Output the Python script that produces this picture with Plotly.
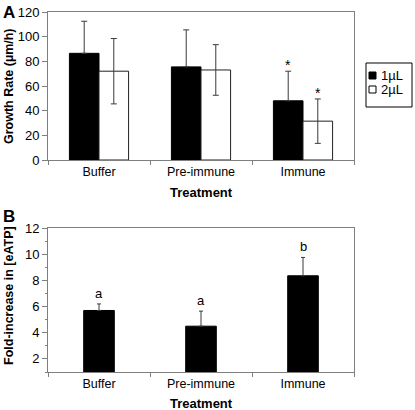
import plotly.graph_objects as go

# ---------------- data ----------------
categories = ["Buffer", "Pre-immune", "Immune"]
series_names = ["1µL", "2µL"]

growth_1ul = [86.5, 75.5, 48.0]
growth_1ul_err = [26.0, 30.0, 24.0]
growth_2ul = [72.0, 73.0, 31.5]
growth_2ul_err = [26.5, 20.5, 18.0]
growth_mark_1ul = ["", "", "*"]
growth_mark_2ul = ["", "", "*"]

eatp_fold = [5.7, 4.5, 8.35]
eatp_err = [0.5, 1.15, 1.4]
eatp_letters = ["a", "a", "b"]

yticks_a = [0, 20, 40, 60, 80, 100, 120]
yticks_b = [2, 4, 6, 8, 10, 12]

# ---------------- helpers ----------------
W, H = 415, 410
FONT = "Arial, Liberation Sans, sans-serif"


def px(x):
    return x / W


def py(y):
    return 1 - y / H


AXC = "#7f7f7f"
ERRC = "#3a3a3a"

fig = go.Figure()

# Panel A bars (lower half of the 1µL error bar is hidden inside the black bar)
fig.add_bar(
    x=categories, y=growth_1ul, name=series_names[0], xaxis="x", yaxis="y",
    marker=dict(color="black", line=dict(color="black", width=1)),
    error_y=dict(type="data", array=growth_1ul_err, arrayminus=[0] * len(growth_1ul_err),
                 symmetric=False, color=ERRC, thickness=1, width=3),
    showlegend=False,
)
fig.add_bar(
    x=categories, y=growth_2ul, name=series_names[1], xaxis="x", yaxis="y",
    marker=dict(color="white", line=dict(color="#222222", width=1)),
    error_y=dict(type="data", array=growth_2ul_err, symmetric=True,
                 color=ERRC, thickness=1, width=3),
    showlegend=False,
)

# Panel B bars
fig.add_bar(
    x=categories, y=eatp_fold, xaxis="x2", yaxis="y2", width=0.3,
    marker=dict(color="black", line=dict(color="black", width=1)),
    error_y=dict(type="data", array=eatp_err, arrayminus=[0] * len(eatp_err),
                 symmetric=False, color=ERRC, thickness=1, width=2),
    showlegend=False,
)


def txt(x, y, text, size, **kw):
    d = dict(x=x, y=y, text=text, showarrow=False, xanchor="center", yanchor="middle",
             font=dict(family=FONT, size=size, color="black"))
    d.update(kw)
    return d


annotations = []
off = 0.145
for i, cat in enumerate(categories):
    if growth_mark_1ul[i]:
        annotations.append(txt(i - off, growth_1ul[i] + growth_1ul_err[i], growth_mark_1ul[i], 14,
                               xref="x", yref="y", yanchor="bottom", yshift=-4))
    if growth_mark_2ul[i]:
        annotations.append(txt(i + off, growth_2ul[i] + growth_2ul_err[i], growth_mark_2ul[i], 14,
                               xref="x", yref="y", yanchor="bottom", yshift=-4))
    annotations.append(txt(cat, eatp_fold[i] + eatp_err[i], eatp_letters[i], 13,
                           xref="x2", yref="y2", yanchor="bottom", yshift=1))

# titles & panel letters
annotations += [
    txt(px(1), py(1), "<b>A</b>", 17, xref="paper", yref="paper", xanchor="left", yanchor="top"),
    txt(px(1), py(205), "<b>B</b>", 17, xref="paper", yref="paper", xanchor="left", yanchor="top"),
    txt(px(9), py(86), "<b>Growth Rate (µm/h)</b>", 12.5, xref="paper", yref="paper", textangle=-90),
    txt(px(9), py(296), "<b>Fold-increase in [eATP]</b>", 12.5, xref="paper", yref="paper", textangle=-90),
    txt(px(201), py(192), "<b>Treatment</b>", 13, xref="paper", yref="paper"),
    txt(px(201), py(403), "<b>Treatment</b>", 13, xref="paper", yref="paper"),
]

# manual legend
shapes = [
    dict(type="rect", xref="paper", yref="paper", x0=px(366), x1=px(412), y0=py(107), y1=py(63),
         line=dict(color="black", width=1), fillcolor="white"),
    dict(type="rect", xref="paper", yref="paper", x0=px(369), x1=px(376), y0=py(79), y1=py(72),
         line=dict(color="black", width=1), fillcolor="black"),
    dict(type="rect", xref="paper", yref="paper", x0=px(369), x1=px(376), y0=py(93), y1=py(86),
         line=dict(color="black", width=1), fillcolor="white"),
]
annotations += [
    txt(px(379), py(75.5), series_names[0], 13, xref="paper", yref="paper", xanchor="left"),
    txt(px(379), py(89.5), series_names[1], 13, xref="paper", yref="paper", xanchor="left"),
]

xaxis_common = dict(
    domain=[px(48), px(354)], type="category", showline=True, linecolor=AXC, linewidth=1,
    mirror=True, ticks="outside", ticklen=4, tickcolor=AXC, tickson="boundaries",
    showgrid=False, zeroline=False, automargin=False,
    tickfont=dict(family=FONT, size=12.5, color="black"),
)
yaxis_common = dict(
    showline=True, linecolor=AXC, linewidth=1, mirror=True, ticks="outside", ticklen=5,
    tickcolor=AXC, showgrid=False, zeroline=False, automargin=False,
    tickfont=dict(family=FONT, size=13, color="black"),
)

fig.update_layout(
    width=W, height=H, margin=dict(l=0, r=0, t=0, b=0),
    template="none", plot_bgcolor="white", paper_bgcolor="white",
    barmode="group", bargap=0.42, bargroupgap=0,
    showlegend=False,
    xaxis=dict(anchor="y", **xaxis_common),
    yaxis=dict(domain=[py(160), py(12)], anchor="x", range=[0, 120],
               tickvals=yticks_a, **yaxis_common),
    xaxis2=dict(anchor="y2", **xaxis_common),
    yaxis2=dict(domain=[py(372), py(228)], anchor="x2", range=[1, 12],
                tickvals=yticks_b, minor=dict(dtick=1, tick0=0, ticks="outside", ticklen=2,
                                              tickcolor=AXC), **yaxis_common),
    annotations=annotations,
    shapes=shapes,
)

fig.write_html("out.html", config={"displayModeBar": False},
               post_script="document.body.style.margin='0';")
